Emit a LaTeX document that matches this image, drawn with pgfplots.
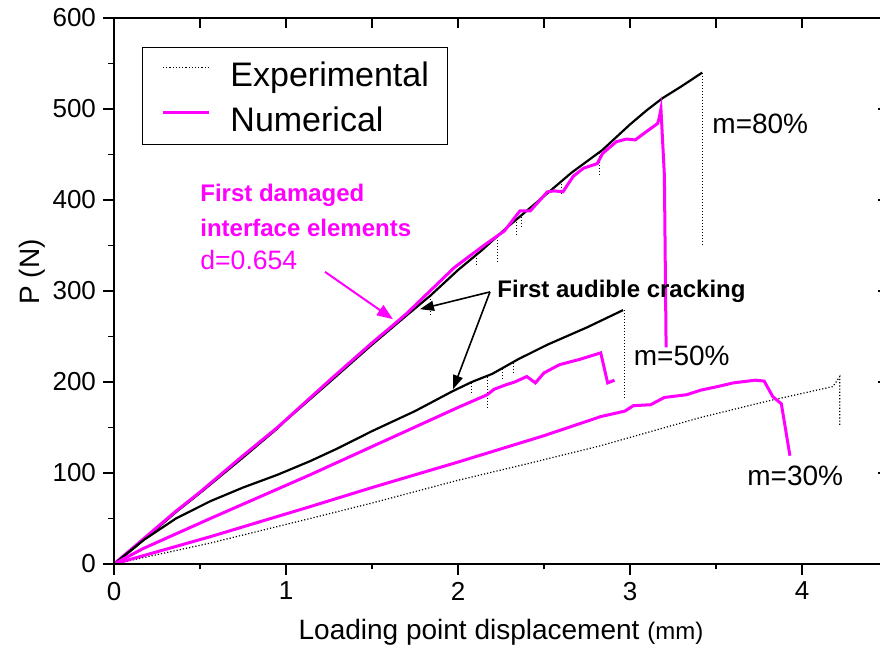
\documentclass[border=0pt]{standalone}
\usepackage{pgfplots}
\pgfplotsset{compat=1.18}
\usepackage{fontspec}
\setmainfont{Liberation Sans}
\usetikzlibrary{arrows.meta}
\definecolor{numpink}{RGB}{255,0,255}

\begin{document}
\begin{tikzpicture}
\pgfplotsset{
  frame/.style={
    scale only axis, width=387pt, height=273pt,
    xmin=0, xmax=4.5, ymin=0, ymax=600,
    axis line style={line width=0.9pt},
    tick style={line width=0.9pt, black},
  },
  expline/.style={black, line width=1.1pt, forget plot},
  expdrop/.style={black, densely dotted, line width=0.5pt, forget plot},
  numline/.style={numpink, line width=1.5pt, forget plot},
}
% main axis: data, outward ticks on bottom and left
\begin{axis}[frame,
  xtick={0,1,2,3,4}, minor xtick={0.5,1.5,2.5,3.5},
  ytick={0,100,...,600}, minor ytick={50,150,...,550},
  xtick pos=left, ytick pos=left, tick align=outside,
  major tick length=5.5pt, minor tick length=2.75pt,
  /pgf/number format/assume math mode=true,
  tick label style={font=\fontsize{13}{15}\selectfont},
  xlabel={Loading point displacement {\fontsize{12}{14}\selectfont(mm)}},
  ylabel={P (N)},
  label style={font=\fontsize{14}{16}\selectfont},
  xlabel style={at={(axis description cs:0.5,-0.125)}, anchor=center},
  ylabel style={at={(axis description cs:-0.106,0.535)}, anchor=center},
  unbounded coords=jump,
  legend cell align=left,
  legend image code/.code={\draw[#1] (0pt,3pt) -- (23pt,3pt);},
  legend style={at={(axis description cs:0.036,0.947)}, anchor=north west,
    draw=black, line width=0.6pt,
    font=\fontsize{17}{20}\selectfont,
    inner xsep=9.5pt, inner ysep=5pt, row sep=6.5pt, column sep=10pt,
    nodes={inner sep=0pt, text height=14.5pt, text depth=1.5pt}},
]
\coordinate (ll) at (rel axis cs:0,0);

\addlegendimage{black, densely dotted, line width=0.6pt}
\addlegendentry{Experimental}
\addlegendimage{numpink, line width=1.5pt}
\addlegendentry{Numerical}

% ---- m = 80% ----
\addplot[expline] coordinates {
  (0,0) (0.1,15) (0.25,39) (0.36,57) (0.5,78) (0.75,117) (0.95,149)
  (1.0,158) (1.26,201) (1.5,241) (1.7,273) (1.84,295) (2.0,323)
  (2.14,345) (2.28,369) (2.48,401) (2.66,430) (2.84,455) (3.0,483)
  (3.1,499) (3.19,512) (3.3,525) (3.42,540)};
\addplot[expdrop] coordinates {
  (3.42,540) (3.42,350) (3.42,nan)
  (1.84,294) (1.84,271) (1.84,nan)
  (2.11,340) (2.11,328) (2.11,nan)
  (2.23,359) (2.23,332) (2.23,nan)
  (2.34,376) (2.34,362) (2.34,nan)
  (2.37,381) (2.37,368) (2.37,nan)
  (2.60,418) (2.60,408) (2.60,nan)
  (2.82,452) (2.82,426)};
\addplot[numline] coordinates {
  (0,0) (0.36,58) (0.5,79) (0.75,119) (0.95,150) (1.26,203) (1.5,243)
  (1.62,262) (1.7,275) (1.98,326) (2.15,350) (2.27,366) (2.36,388)
  (2.42,388) (2.52,409) (2.56,410) (2.61,409) (2.67,426) (2.73,435)
  (2.81,440) (2.84,451) (2.92,464) (2.98,467) (3.03,466) (3.08,473)
  (3.16,484) (3.17,490) (3.18,500) (3.20,427) (3.21,238)};

% ---- m = 50% ----
\addplot[expline] coordinates {
  (0,0) (0.17,26) (0.36,50) (0.56,69) (0.75,84) (0.95,98) (1.14,113)
  (1.3,127) (1.5,146) (1.75,168) (1.97,190) (2.08,200) (2.2,209)
  (2.35,225) (2.52,241) (2.75,260) (2.96,279)};
\addplot[expdrop] coordinates {
  (2.97,279) (2.97,181) (2.97,nan)
  (2.08,199) (2.08,189) (2.08,nan)
  (2.17,206) (2.17,170) (2.17,nan)
  (2.26,214) (2.26,201) (2.26,nan)
  (2.32,221) (2.32,210)};
\addplot[numline] coordinates {
  (0,0) (0.17,17) (0.56,50) (1.14,98) (1.5,129) (2.0,172) (2.17,186)
  (2.21,192) (2.28,197) (2.33,200) (2.40,206) (2.45,199) (2.50,210)
  (2.59,219) (2.71,225) (2.83,232) (2.87,199) (2.91,202)};

% ---- m = 30% ----
\addplot[black, densely dotted, line width=0.6pt, forget plot] coordinates {
  (0,0) (0.56,23) (1.14,50) (1.5,67) (2.0,92) (2.4,110) (2.83,130)
  (3.41,161) (3.8,179) (4.18,195) (4.22,206) (4.22,151)};
\addplot[numline] coordinates {
  (0,0) (0.56,30) (1.14,63) (1.5,84) (2.0,112) (2.5,141) (2.83,162)
  (2.97,168) (3.02,174) (3.12,175) (3.20,183) (3.33,186) (3.41,191)
  (3.51,195) (3.60,199) (3.73,202) (3.78,201) (3.83,184) (3.88,176)
  (3.93,119)};

% ---- labels ----
\node[anchor=west, inner sep=0pt, font=\fontsize{14}{16}\selectfont]
  at (axis cs:3.477,484) {m=80\%};
\node[anchor=west, inner sep=0pt, font=\fontsize{14}{16}\selectfont]
  at (axis cs:3.02,229) {m=50\%};
\node[anchor=west, inner sep=0pt, font=\fontsize{14}{16}\selectfont]
  at (axis cs:3.68,97) {m=30\%};

\node[anchor=base west, inner sep=0pt, text=numpink,
  font=\bfseries\fontsize{12}{14}\selectfont] at (axis cs:0.5,398) {First damaged};
\node[anchor=base west, inner sep=0pt, text=numpink,
  font=\bfseries\fontsize{12}{14}\selectfont] at (axis cs:0.5,359.5) {interface elements};
\node[anchor=base west, inner sep=0pt, text=numpink,
  font=\fontsize{13.3}{15}\selectfont] at (axis cs:0.5,324) {d=0.654};
\draw[numpink, line width=1pt, -{Triangle[length=8pt, width=6pt]}]
  (axis cs:1.227,321) -- (axis cs:1.622,269);

\node[anchor=base west, inner sep=0pt,
  font=\bfseries\fontsize{12}{14}\selectfont] at (axis cs:2.227,293) {First audible cracking};
\draw[black, line width=0.8pt, -{Triangle[length=7pt, width=5pt]}]
  (axis cs:2.186,299) -- (axis cs:1.779,280);
\draw[black, line width=0.8pt, -{Triangle[length=7pt, width=5pt]}]
  (axis cs:2.186,299) -- (axis cs:1.971,192);
\end{axis}

% mirrored inward ticks on top and right
\begin{axis}[frame,
  xtick={0,1,2,3,4}, minor xtick={0.5,1.5,2.5,3.5},
  ytick={0,100,...,600},
  xtick pos=right, ytick pos=right, tick align=inside,
  major tick length=5pt, minor tick length=5pt,
  xticklabels={}, yticklabels={},
]
\end{axis}

\pgfresetboundingbox
\path ([xshift=-57pt,yshift=-43.5pt]ll) rectangle ++(440pt,325.5pt);
\end{tikzpicture}
\end{document}
